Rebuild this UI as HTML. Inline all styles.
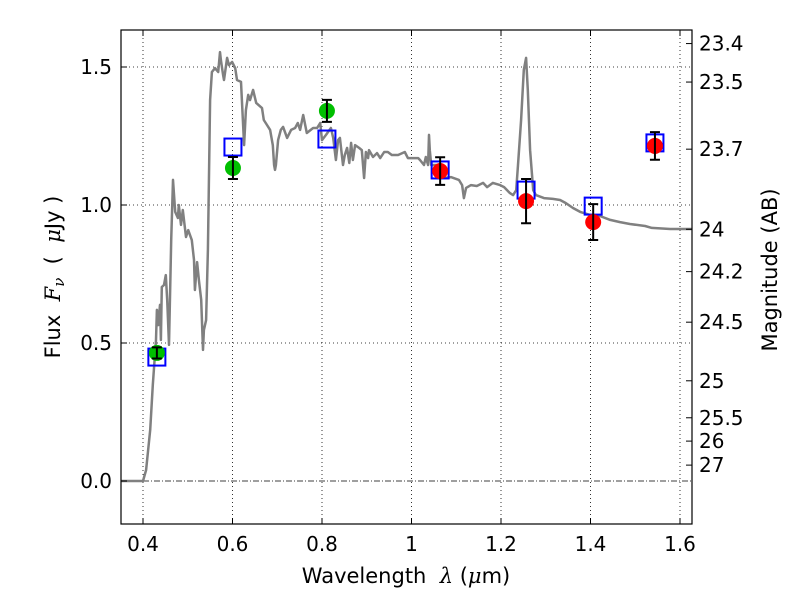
<!DOCTYPE html>
<html><head><meta charset="utf-8"><style>
body{margin:0;background:#fff;}
svg text{font-family:"DejaVu Sans","Liberation Sans",sans-serif;fill:#000;}
</style></head><body>
<svg id="chart" width="800" height="600" xmlns="http://www.w3.org/2000/svg">
<rect width="800" height="600" fill="#fff"/>
<g id="grid"></g>
<g id="plot"></g>
<g id="axes"></g>
<text x="406" y="583" font-size="21" text-anchor="middle" xml:space="preserve">Wavelength  <tspan font-style="italic" font-family="DejaVu Serif, serif">λ</tspan> (<tspan font-style="italic" font-family="DejaVu Serif, serif">μ</tspan>m)</text>
<text transform="translate(60,277) rotate(-90)" font-size="21" text-anchor="middle" xml:space="preserve">Flux  <tspan font-style="italic" font-family="DejaVu Serif, serif">F<tspan font-size="15" dy="4">ν</tspan></tspan><tspan dy="-4">  (  </tspan><tspan font-style="italic" font-family="DejaVu Serif, serif">μ</tspan>Jy )</text>
<text transform="translate(777,270) rotate(-90)" font-size="21" text-anchor="middle">Magnitude (AB)</text>
</svg>
<script>
const specLam=[0.351,0.400,0.407,0.416,0.422,0.429,0.431,0.434,0.438,0.440,0.442,0.447,0.451,0.454,0.458,0.463,0.467,0.472,0.478,0.480,0.485,0.489,0.496,0.501,0.509,0.514,0.516,0.521,0.525,0.530,0.534,0.536,0.541,0.545,0.550,0.554,0.561,0.568,0.572,0.574,0.579,0.581,0.588,0.592,0.599,0.606,0.610,0.619,0.626,0.630,0.635,0.639,0.646,0.653,0.666,0.670,0.677,0.684,0.690,0.693,0.695,0.697,0.702,0.708,0.713,0.722,0.731,0.740,0.746,0.751,0.758,0.766,0.780,0.789,0.796,0.800,0.809,0.820,0.825,0.831,0.836,0.840,0.847,0.851,0.856,0.861,0.865,0.869,0.874,0.883,0.889,0.894,0.898,0.903,0.905,0.914,0.923,0.930,0.939,0.947,0.956,0.970,0.985,0.992,1.003,1.015,1.019,1.028,1.032,1.037,1.039,1.041,1.044,1.057,1.064,1.073,1.088,1.106,1.113,1.117,1.122,1.133,1.146,1.160,1.169,1.182,1.198,1.207,1.220,1.227,1.234,1.238,1.245,1.251,1.256,1.260,1.265,1.272,1.278,1.296,1.316,1.332,1.345,1.361,1.377,1.399,1.421,1.444,1.466,1.488,1.522,1.537,1.578,1.627];
const specFlux=[0,0,0.040,0.185,0.348,0.511,0.620,0.565,0.638,0.511,0.703,0.710,0.746,0.656,0.493,0.873,1.091,0.975,0.953,1.0,0.928,0.982,0.884,0.909,0.873,0.801,0.692,0.793,0.728,0.656,0.475,0.547,0.583,0.837,1.380,1.482,1.496,1.482,1.554,1.525,1.471,1.453,1.533,1.507,1.518,1.496,1.453,1.446,1.217,1.344,1.399,1.380,1.417,1.370,1.351,1.308,1.290,1.272,1.217,1.145,1.127,1.145,1.235,1.272,1.283,1.243,1.272,1.279,1.297,1.272,1.326,1.261,1.279,1.279,1.297,1.235,1.254,1.279,1.243,1.163,1.235,1.243,1.145,1.181,1.207,1.152,1.225,1.163,1.217,1.207,1.199,1.098,1.192,1.170,1.199,1.174,1.188,1.170,1.192,1.192,1.181,1.181,1.192,1.170,1.170,1.170,1.163,1.145,1.174,1.145,1.254,1.199,1.145,1.145,1.127,1.098,1.101,1.091,1.072,1.025,1.062,1.072,1.069,1.080,1.065,1.080,1.072,1.065,1.043,1.036,1.054,1.145,1.308,1.489,1.533,1.417,1.199,1.054,1.036,1.025,1.022,1.018,1.007,0.989,0.975,0.964,0.960,0.946,0.938,0.931,0.924,0.917,0.913,0.913];
const greenLam=[0.431,0.601,0.811];
const greenFlux=[0.464,1.134,1.341];
const greenErr=[0.02,0.04,0.04];
const redLam=[1.064,1.256,1.406,1.544];
const redFlux=[1.123,1.014,0.938,1.214];
const redErr=[0.05,0.08,0.065,0.05];
const modelLam=[0.431,0.601,0.811,1.064,1.256,1.406,1.544];
const modelFlux=[0.449,1.210,1.239,1.127,1.054,0.996,1.225];
const xTicks=[0.4,0.6,0.8,1.0,1.2,1.4,1.6];
const xTickLabels=["0.4","0.6","0.8","1","1.2","1.4","1.6"];
const yTicks=[0,0.5,1.0,1.5];
const yTickLabels=["0.0","0.5","1.0","1.5"];
const magTicks=[23.4,23.5,23.7,24,24.2,24.5,25,25.5,26,27];

const L=121,R=692,T=30,B=524;
const X=v=>143+(v-0.4)*447.5;
const Y=v=>481-v*276;
const NS="http://www.w3.org/2000/svg";
function mk(parent,tag,attrs){const e=document.createElementNS(NS,tag);for(const k in attrs)e.setAttribute(k,attrs[k]);parent.appendChild(e);return e;}
const grid=document.getElementById('grid'),plot=document.getElementById('plot'),axes=document.getElementById('axes');

xTicks.forEach((t,i)=>{
  const g=mk(grid,'line',{x1:X(t),x2:X(t),y1:T,y2:B,stroke:'#000','stroke-width':0.8,'stroke-dasharray':'1,3'});
  
  
  mk(axes,'line',{x1:X(t),x2:X(t),y1:B,y2:B-6,stroke:'#000'});
  mk(axes,'line',{x1:X(t),x2:X(t),y1:T,y2:T+6,stroke:'#000'});
  const tx=mk(axes,'text',{x:X(t),y:B+27,'font-size':20,'text-anchor':'middle'});
  tx.textContent=xTickLabels[i];
  
  
});
yTicks.forEach((t,i)=>{
  if(t!==0){
    const g=mk(grid,'line',{x1:L,x2:R,y1:Y(t),y2:Y(t),stroke:'#000','stroke-width':0.8,'stroke-dasharray':'1,3'});
    
    
  }
  mk(axes,'line',{x1:L,x2:L+6,y1:Y(t),y2:Y(t),stroke:'#000'});
  const tx=mk(axes,'text',{x:L-9,y:Y(t)+7,'font-size':20,'text-anchor':'end'});
  tx.textContent=yTickLabels[i];
  
  
});
const zl=mk(grid,'line',{x1:L,x2:R,y1:Y(0),y2:Y(0),stroke:'#000','stroke-width':0.8,'stroke-dasharray':'6,2,1,2'});



magTicks.forEach(m=>{
  const f=Math.pow(10,(23.9-m)/2.5);
  const y=Y(f);
  mk(axes,'line',{x1:R,x2:R-6,y1:y,y2:y,stroke:'#000'});
  const tx=mk(axes,'text',{x:R+7,y:y+7,'font-size':20});
  tx.textContent=String(m);
  
  
});

let d='';
specLam.forEach((l,i)=>{d+=(i?'L':'M')+X(l).toFixed(1)+','+Y(specFlux[i]).toFixed(1);});
const clip=mk(plot,'clipPath',{id:'cp'});mk(clip,'rect',{x:L,y:T,width:R-L,height:B-T});
const sp=mk(plot,'path',{d:d,fill:'none',stroke:'#808080','stroke-width':2.5,'stroke-linejoin':'round','clip-path':'url(#cp)'});



function points(lams,fl,err,color,name){
  lams.forEach((l,i)=>{
    const c=mk(plot,'circle',{cx:X(l),cy:Y(fl[i]),r:8,fill:color});
    
    
  });
  lams.forEach((l,i)=>{
    const x=X(l),y1=Y(fl[i]+err[i]),y2=Y(fl[i]-err[i]);
    const g=mk(plot,'path',{d:`M${x},${y1}L${x},${y2}M${x-5},${y1}L${x+5},${y1}M${x-5},${y2}L${x+5},${y2}`,stroke:'#000','stroke-width':2,fill:'none'});
    
    
  });
}
modelLam.forEach((l,i)=>{
  const s=mk(plot,'rect',{x:X(l)-8.5,y:Y(modelFlux[i])-8.5,width:17,height:17,fill:'none',stroke:'#0000ff','stroke-width':2});
  
  
});
points(greenLam,greenFlux,greenErr,'#00bf00','green-photometry-point');
points(redLam,redFlux,redErr,'#ff0000','red-photometry-point');
const fr=mk(axes,'rect',{x:L,y:T,width:R-L,height:B-T,fill:'none',stroke:'#000','stroke-width':1.2});


</script>
</body></html>
